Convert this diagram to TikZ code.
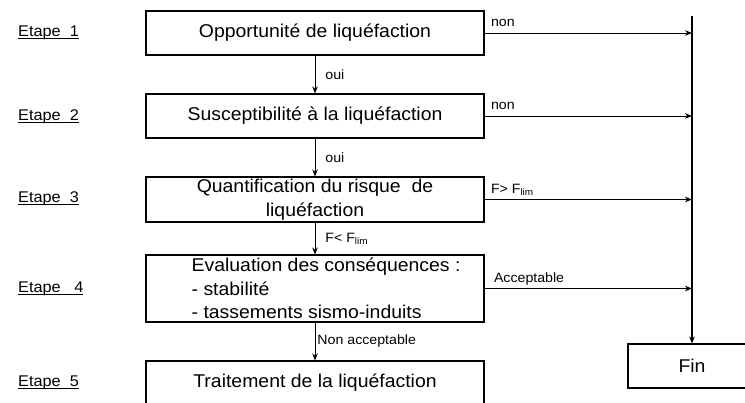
\documentclass[tikz,border=0pt]{standalone}
\usepackage{fontspec}
\setmainfont{Liberation Sans}[FakeStretch=1.05]
\usepackage{tikz}
\usetikzlibrary{shapes,positioning,arrows.meta}
\newcommand{\souligne}[1]{\setbox0\hbox{#1}\rlap{\rule[-2.5pt]{\wd0}{0.9pt}}\box0}
\tikzset{etape/.style={draw,line width=1.1pt,minimum width=338pt,minimum height=44pt,inner sep=2pt,font=\fontsize{18.5}{23.5}\selectfont},
         lbl/.style={font=\fontsize{13.5}{15}\selectfont,inner sep=1pt},
         num/.style={anchor=west,inner sep=1pt,font=\fontsize{15.5}{17}\selectfont}}

\begin{document}
\begin{tikzpicture}[>={Stealth[length=7pt,width=5.5pt]},x=1pt,y=-1pt]
    \useasboundingbox (0,0) rectangle (745,403);

    \node[num] (n1) at (17,33) {\souligne{Etape\ \ 1}};
    \node[num] (n2) at (17,117) {\souligne{Etape\ \ 2}};
    \node[num] (n3) at (17,199) {\souligne{Etape\ \ 3}};
    \node[num] (n4) at (17,289) {\souligne{Etape\ \ \ 4}};
    \node[num] (n5) at (17,383) {\souligne{Etape\ \ 5}};

    \node[etape] (a)at (315,33) {Opportunité\ de liquéfaction};
    \node[etape] (b)at (315,116) {Susceptibilité à la liquéfaction};
    \node[etape,minimum height=45pt,align=center] (c)at (315,199.5) {Quantification du risque\ \ de\\liquéfaction};
    \node[etape,minimum height=67pt] (d)at (315,288.5) {};
    \node[anchor=west,align=left,inner sep=0pt,font=\fontsize{18.5}{23.5}\selectfont] (dt)at ([xshift=46pt]d.west) {Evaluation des conséquences :\\- stabilité\\- tassements sismo-induits};
    \node[etape] (e)at (315,383) {Traitement de la liquéfaction};
    \node[etape,minimum width=128pt] (fin)at (692,366) {Fin};
    \coordinate (top) at (692,16);

    \draw [->,line width=0.9pt] (a) -- node[lbl,anchor=west,xshift=9pt]{oui} (b);
    \draw [->,line width=0.9pt] (b) -- node[lbl,anchor=west,xshift=9pt]{oui} (c);
    \draw [->,line width=0.9pt] (c) -- node[lbl,anchor=west,xshift=9pt]{F< F\textsubscript{lim}} (d);
    \draw [->,line width=0.9pt] (d) -- node[lbl,anchor=west,xshift=1pt]{Non acceptable} (e);

    \draw [->,line width=0.9pt] (a.east) -- node[lbl,anchor=base west,pos=0,xshift=5pt,yshift=6pt]{non} (a.east -| top);
    \draw [->,line width=0.9pt] (b.east) -- node[lbl,anchor=base west,pos=0,xshift=5pt,yshift=6pt]{non} (b.east -| top);
    \draw [->,line width=0.9pt] (c.east) -- node[lbl,anchor=base west,pos=0,xshift=5pt,yshift=6pt]{F> F\textsubscript{lim}} (c.east -| top);
    \draw [->,line width=0.9pt] (d.east) -- node[lbl,anchor=base west,pos=0,xshift=8pt,yshift=6pt]{Acceptable} (d.east -| top);

    \draw [->,line width=1.6pt] (top) -- (fin.north);
\end{tikzpicture}
\end{document}
